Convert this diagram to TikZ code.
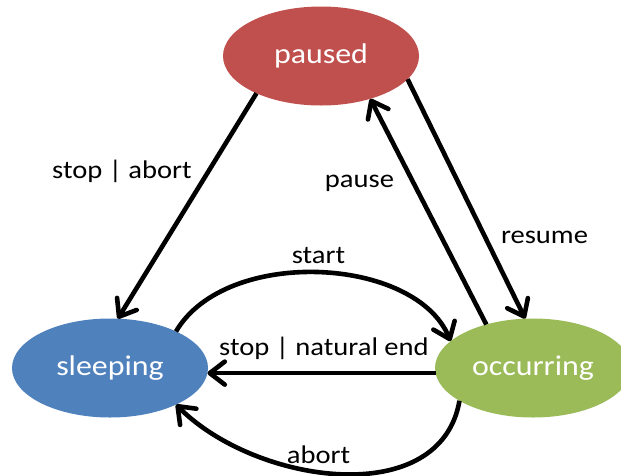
\documentclass[tikz,border=0pt]{standalone}
\usepackage{fontspec}
\setmainfont{Carlito}[FakeStretch=1.12]
\usetikzlibrary{arrows.meta,shapes.geometric}
\definecolor{pausedred}{HTML}{C0504D}
\definecolor{sleepblue}{HTML}{4F81BD}
\definecolor{occurgreen}{HTML}{9BBB59}
\begin{document}
\begin{tikzpicture}[x=1pt,y=-1pt,
  state/.style={ellipse, minimum width=196pt, minimum height=99pt,
    inner sep=0pt, outer sep=0pt, text=white,
    font=\fontsize{28.5}{30}\selectfont},
  trans/.style={line width=4.6pt, draw=black,
    -{Straight Barb[length=15pt,width=23pt,round]}},
  lbl/.style={anchor=base, inner sep=0pt,
    font=\fontsize{25.5}{27}\selectfont}]
\useasboundingbox (0,0) rectangle (621,475);
\clip (0,0) rectangle (621,475);

% states
\node[state, fill=pausedred]  (paused)    at (321,56)  {paused};
\node[state, fill=sleepblue]  (sleeping)  at (110,368) {sleeping};
\node[state, fill=occurgreen] (occurring) at (533,368) {occurring};

% transitions
\draw[trans] (paused.210) -- (sleeping.81);
\draw[trans] (occurring.137) -- (paused.319);
\draw[trans] (paused.345) -- (occurring.99);
\draw[trans] (sleeping.29) .. controls +(50,-85) and +(-35,-85) .. (occurring.162);
\draw[trans] (occurring.183) -- (sleeping.357);
\draw[trans] (occurring.204) .. controls +(-19,110) and +(80,80) .. (sleeping.331);

% transition labels
\node[lbl] (lstopabort) at (122,178)   {stop | abort};
\node[lbl] (lpause)     at (359.5,187) {pause};
\node[lbl] (lresume)    at (544.5,243) {resume};
\node[lbl] (lstart)     at (318.5,263) {start};
\node[lbl] (lstopend)   at (324,355)   {stop | natural end};
\node[lbl] (labort)     at (318.5,463) {abort};
\end{tikzpicture}
\end{document}
